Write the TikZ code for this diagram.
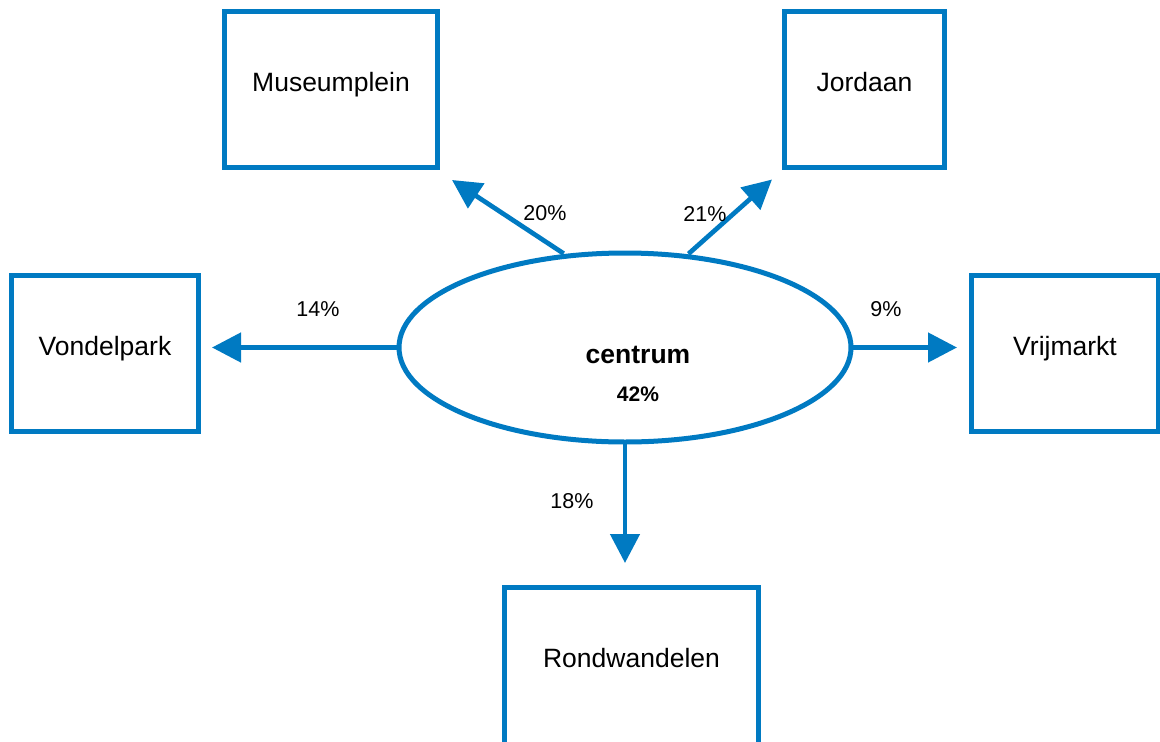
\documentclass[tikz,border=0pt]{standalone}
\usepackage{fontspec}
\setmainfont{Liberation Sans}
\usetikzlibrary{shapes.geometric,arrows.meta}
\definecolor{blu}{HTML}{007AC2}
\begin{document}
\begin{tikzpicture}[x=1pt,y=-1pt,
  box/.style={draw=blu,line width=5pt,inner sep=0pt,fill=white},
  lbl/.style={anchor=base,inner sep=0pt,font=\fontsize{26.5}{30}\selectfont},
  pct/.style={anchor=base,inner sep=0pt,font=\fontsize{21.5}{25}\selectfont},
  arr/.style={draw=blu,line width=4.7pt,-{Triangle[length=29pt,width=29pt]}},
]
\useasboundingbox (0,0) rectangle (1160,742);
% boxes
\node[box,minimum width=213pt,minimum height=156pt] (mus) at (331,89.5) {};
\node[box,minimum width=160pt,minimum height=156pt] (jor) at (864.5,89.5) {};
\node[box,minimum width=187pt,minimum height=156pt] (von) at (105,353.5) {};
\node[box,minimum width=187pt,minimum height=156pt] (vri) at (1065,353.5) {};
\node[box,minimum width=254pt,minimum height=164pt] (ron) at (631.5,669.5) {};
\node[lbl] (musT) at ([yshift=-1.5pt]mus.center) {Museumplein};
\node[lbl] (jorT) at ([yshift=-1.5pt]jor.center) {Jordaan};
\node[lbl] (vonT) at ([yshift=-1.5pt]von.center) {Vondelpark};
\node[lbl] (vriT) at ([yshift=-1.5pt]vri.center) {Vrijmarkt};
\node[lbl] (ronT) at ([yshift=2.5pt]ron.center) {Rondwandelen};
% centre ellipse
\node[ellipse,draw=blu,line width=5pt,minimum width=452pt,minimum height=189pt,inner sep=0pt,outer sep=0pt] (c) at (625,347.5) {};
\node[lbl,font=\fontsize{26.5}{30}\selectfont\bfseries] (cT) at (638,363) {centrum};
\node[pct,font=\fontsize{21}{25}\selectfont\bfseries] (cP) at (638,401) {42\%};
% arrow tips
\coordinate (tMus) at (452,180);
\coordinate (tJor) at (772,179.5);
\coordinate (tVon) at (212,347.5);
\coordinate (tVri) at (957,347.5);
\coordinate (tRon) at (625,563);
\draw[arr] ([yshift=3pt]c.124.8) -- (tMus);
\draw[arr] ([yshift=3pt]c.55.2) -- (tJor);
\draw[arr] (c.west) -- (tVon);
\draw[arr] (c.east) -- (tVri);
\draw[arr] (c.south) -- (tRon);
% percentages
\node[pct] (p1) at (545,220) {20\%};
\node[pct] (p2) at (705,221) {21\%};
\node[pct] (p3) at (318,316) {14\%};
\node[pct] (p4) at (886,316) {9\%};
\node[pct] (p5) at (572,508) {18\%};
\end{tikzpicture}
\end{document}
